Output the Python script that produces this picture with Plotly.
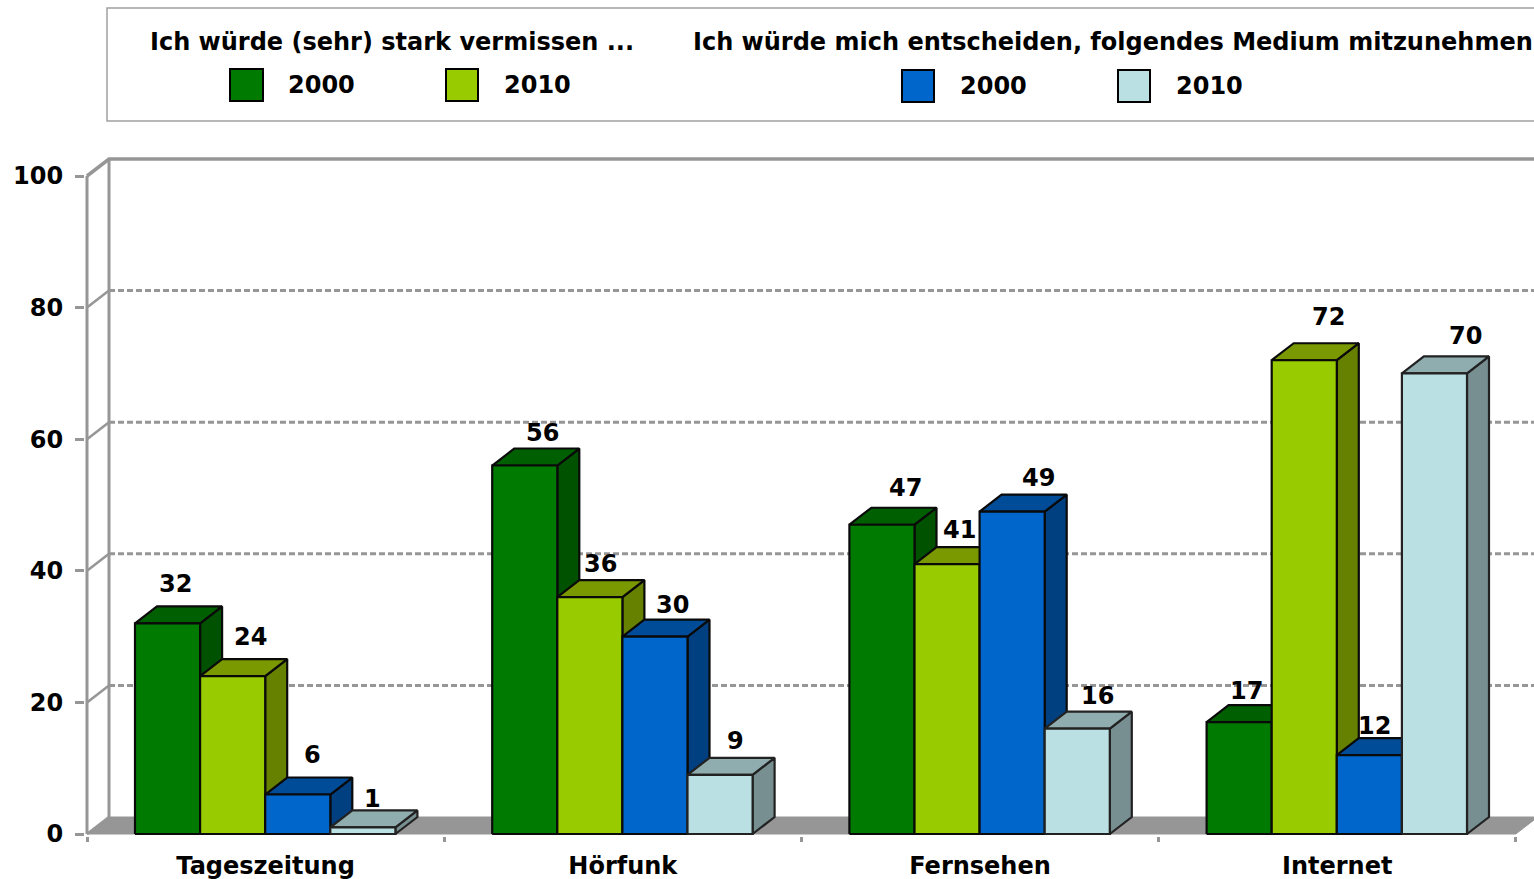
import plotly.graph_objects as go

# ---- data ----
categories = ["Tageszeitung", "Hörfunk", "Fernsehen", "Internet"]
vermissen_2000 = [32, 56, 47, 17]
vermissen_2010 = [24, 36, 41, 72]
mitnehmen_2000 = [6, 30, 49, 12]
mitnehmen_2010 = [1, 9, 16, 70]
y_ticks = [0, 20, 40, 60, 80, 100]
legend_titles = ["Ich würde (sehr) stark vermissen ...",
                 "Ich würde mich entscheiden, folgendes Medium mitzunehmen"]
legend_years = ["2000", "2010"]

# ---- style ----
series = [
    dict(values=vermissen_2000, front="#007A00", top="#005F00", side="#005200", edge="#0a0a0a"),
    dict(values=vermissen_2010, front="#99CC00", top="#7A9900", side="#668000", edge="#0a0a0a"),
    dict(values=mitnehmen_2000, front="#0066CC", top="#004C99", side="#003F80", edge="#0a0a0a"),
    dict(values=mitnehmen_2010, front="#BBE0E3", top="#8FACAE", side="#788F91", edge="#222222"),
]
# nudges of the value labels relative to each bar, in pixels (series x category)
label_dx = [[8, 18, 24, 7], [18, 11, 12, 24], [15, 18, 26, 5], [10, 15, 20, 31]]
label_dy = [[39, 33, 37, 31], [39, 33, 34, 43], [40, 32, 34, 29], [28, 34, 33, 37]]

W, H = 1534, 879
ORIGIN_X, ORIGIN_Y = 87, 834      # pixel position of category 0 / value 0
SLACK = 2                         # room left of and below the origin so edges are not cut
ML, MB, MT = ORIGIN_X - SLACK, H - ORIGIN_Y - SLACK, 150
CAT_PX = 357.2
VAL_PX = 6.58
GRAY = "#969696"
FONT = "DejaVu Sans"
SIZE = 24

plot_w = W - ML
plot_h = H - MT - MB
dx = 22 / CAT_PX
dy = 17 / VAL_PX
bar_w = 65.1 / CAT_PX
pad = 48 / CAT_PX
xmin = -SLACK / CAT_PX
ymin = -SLACK / VAL_PX
xmax = (W - ORIGIN_X) / CAT_PX
ymax = (ORIGIN_Y - MT) / VAL_PX

fig = go.Figure()


def poly(xs, ys, fill, line, width=2.2):
    fig.add_trace(go.Scatter(
        x=xs + xs[:1], y=ys + ys[:1], mode="lines", fill="toself", fillcolor=fill,
        line=dict(color=line, width=width), hoverinfo="skip", showlegend=False))


def seg(xs, ys, width=2.5, dash="solid"):
    fig.add_trace(go.Scatter(
        x=xs, y=ys, mode="lines", line=dict(color=GRAY, width=width, dash=dash),
        hoverinfo="skip", showlegend=False))


# floor
poly([0, len(categories), len(categories) + dx, dx], [0, 0, dy, dy], GRAY, GRAY, 1)
# front and back edges of the side wall, its top, the grid
seg([0, 0], [0, y_ticks[-1]], 3)
seg([dx, dx], [dy, y_ticks[-1] + dy], 3)
seg([0, dx, xmax], [y_ticks[-1], y_ticks[-1] + dy, y_ticks[-1] + dy], 3.5)
for t in y_ticks[1:-1]:
    seg([0, dx], [t, t + dy], 2.5)
    seg([dx, xmax], [t + dy, t + dy], 3, "6px,3px")
seg([0, dx], [0, dy], 2.5)

# bars
annotations = []
for c in range(len(categories)):
    for s, sr in enumerate(series):
        v = sr["values"][c]
        x0 = c + pad + s * bar_w
        x1 = x0 + bar_w
        poly([x1, x1 + dx, x1 + dx, x1], [0, dy, v + dy, v], sr["side"], sr["edge"])
        poly([x0, x1, x1 + dx, x0 + dx], [v, v, v + dy, v + dy], sr["top"], sr["edge"])
        poly([x0, x1, x1, x0], [0, 0, v, v], sr["front"], sr["edge"])
        annotations.append(dict(
            x=(x0 + x1) / 2, y=v, xref="x", yref="y", text=str(v), showarrow=False,
            xshift=label_dx[s][c], yshift=label_dy[s][c],
            font=dict(family=FONT, size=SIZE, color="#000000", weight="bold")))


def px(x):
    return (x - ML) / plot_w


def py(y):
    return (H - MB - y) / plot_h


# legend box and swatches
shapes = [dict(type="rect", xref="paper", yref="paper", x0=px(107), x1=px(1540),
               y0=py(121), y1=py(8), line=dict(color="#a0a0a0", width=1.5),
               fillcolor="#ffffff", layer="below")]
legend_rows = [
    (legend_titles[0], 148, 42, 85, [(230, 263, 286), (446, 478, 502)],
     [series[0]["front"], series[1]["front"]]),
    (legend_titles[1], 691, 42, 86, [(902, 934, 958), (1118, 1150, 1174)],
     [series[2]["front"], series[3]["front"]]),
]
for title, tx, ty, ry, items, cols in legend_rows:
    annotations.append(dict(
        xref="paper", yref="paper", x=px(tx), y=py(ty), xanchor="left", yanchor="middle",
        text=title, showarrow=False,
        font=dict(family=FONT, size=SIZE, color="#000000", weight="bold")))
    for (a, b, t), col, yr in zip(items, cols, legend_years):
        shapes.append(dict(type="rect", xref="paper", yref="paper", x0=px(a), x1=px(b),
                           y0=py(ry + 16), y1=py(ry - 16), fillcolor=col,
                           line=dict(color="#000000", width=2)))
        annotations.append(dict(
            xref="paper", yref="paper", x=px(t), y=py(ry), xanchor="left", yanchor="middle",
            text=yr, showarrow=False,
            font=dict(family=FONT, size=SIZE, color="#000000", weight="bold")))

tick_font = dict(family=FONT, size=SIZE, color="#000000", weight="bold")
fig.update_layout(
    width=W, height=H, margin=dict(l=ML, r=0, t=MT, b=MB, pad=0), autosize=False,
    paper_bgcolor="#ffffff", plot_bgcolor="#ffffff", showlegend=False,
    shapes=shapes, annotations=annotations,
    xaxis=dict(range=[xmin, xmax], tickmode="array",
               tickvals=[i + 0.5 for i in range(len(categories))], ticktext=categories,
               ticks="", showgrid=False, zeroline=False, showline=False,
               tickfont=tick_font, ticklabelstandoff=13,
               minor=dict(tickmode="array", tickvals=list(range(len(categories) + 1)),
                          ticks="outside", ticklen=5, tickwidth=2.5, tickcolor=GRAY,
                          showgrid=False)),
    yaxis=dict(range=[ymin, ymax], tickmode="array", tickvals=y_ticks,
               ticktext=[str(t) for t in y_ticks], ticks="outside", ticklen=9, tickwidth=2.5,
               tickcolor=GRAY, showgrid=False, zeroline=False, showline=False,
               tickfont=tick_font, ticklabelstandoff=7),
)

fig.write_html("out.html", config=dict(displayModeBar=False), post_script=(
    "document.body.style.margin='0';document.body.style.overflow='hidden';"))
